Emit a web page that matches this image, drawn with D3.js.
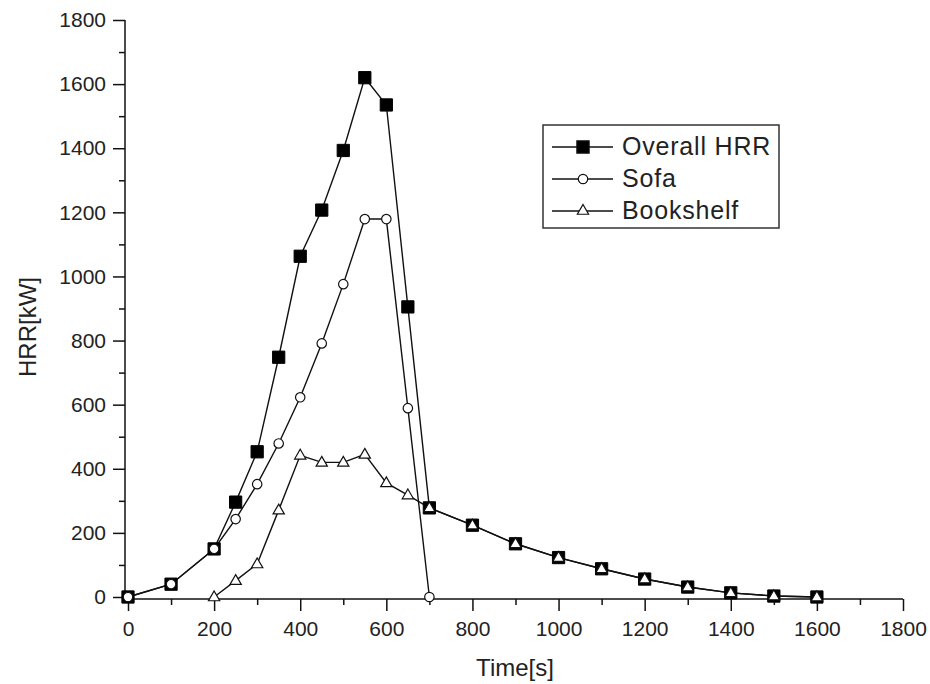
<!DOCTYPE html>
<html>
<head>
<meta charset="utf-8">
<script src="https://cdn.jsdelivr.net/npm/d3@7"></script>
<style>
  body { margin: 0; background: #fff; }
  svg text { font-family: "Liberation Sans", Arial, sans-serif; fill: #222; }
</style>
</head>
<body>
<svg width="930" height="684"></svg>
<script>
// data
var timeOverall = [0, 100, 200, 250, 300, 350, 400, 450, 500, 550, 600, 650, 700, 800, 900, 1000, 1100, 1200, 1300, 1400, 1500, 1600];
var hrrOverall  = [0, 40, 150, 296, 453, 748, 1063, 1207, 1393, 1620, 1535, 905, 278, 224, 166, 123, 88, 56, 31, 13, 3, 0];
var timeSofa = [0, 100, 200, 250, 300, 350, 400, 450, 500, 550, 600, 650, 700];
var hrrSofa  = [0, 40, 150, 243, 352, 479, 623, 791, 976, 1179, 1179, 589, 0];
var timeShelf = [200, 250, 300, 350, 400, 450, 500, 550, 600, 650, 700, 800, 900, 1000, 1100, 1200, 1300, 1400, 1500, 1600];
var hrrShelf  = [0, 51, 103, 271, 442, 420, 420, 445, 356, 318, 278, 224, 166, 123, 88, 56, 31, 13, 3, 0];
var majorTicks = [0, 200, 400, 600, 800, 1000, 1200, 1400, 1600, 1800];
var minorTicks = [100, 300, 500, 700, 900, 1100, 1300, 1500, 1700];
var seriesNames = ["Overall HRR", "Sofa", "Bookshelf"];

function main() {
    var svg = d3.select("svg");

    var x = d3.scaleLinear().domain([0, 1800]).range([128, 903]),
        y = d3.scaleLinear().domain([0, 1800]).range([597, 20]);

    var axisX = 599, axisY = 125;
    var fmt = d3.format("d");

    // minor ticks
    svg.append("g")
       .attr("transform", "translate(0," + axisX + ")")
       .call(d3.axisBottom(x).tickValues(minorTicks).tickSize(6).tickFormat(""))
       .call(function(g) { g.select(".domain").remove(); });
    svg.append("g")
       .attr("transform", "translate(" + axisY + ",0)")
       .call(d3.axisLeft(y).tickValues(minorTicks).tickSize(6).tickFormat(""))
       .call(function(g) { g.select(".domain").remove(); });

    // major ticks
    var gx = svg.append("g")
       .attr("transform", "translate(0," + axisX + ")")
       .call(d3.axisBottom(x).tickValues(majorTicks).tickFormat(fmt).tickSize(12).tickPadding(10))
       .call(function(g) { g.select(".domain").remove(); });
    gx.selectAll("text").attr("font-size", "21px").attr("fill", "#333");

    var gy = svg.append("g")
       .attr("transform", "translate(" + axisY + ",0)")
       .call(d3.axisLeft(y).tickValues(majorTicks).tickFormat(fmt).tickSize(12).tickPadding(7))
       .call(function(g) { g.select(".domain").remove(); });
    gy.selectAll("text").attr("font-size", "21px").attr("fill", "#333");

    svg.selectAll(".tick line").attr("stroke", "#111").attr("stroke-width", 1.5);

    // axis lines
    svg.append("line")
       .attr("x1", axisY).attr("x2", axisY)
       .attr("y1", y(1800)).attr("y2", axisX)
       .attr("stroke", "#111").attr("stroke-width", 1.5);
    svg.append("line")
       .attr("x1", axisY).attr("x2", x(1800))
       .attr("y1", axisX).attr("y2", axisX)
       .attr("stroke", "#111").attr("stroke-width", 1.5);

    // axis titles
    svg.append("text")
       .attr("x", 515).attr("y", 676)
       .attr("text-anchor", "middle")
       .attr("font-size", "24px")
       .text("Time[s]");
    svg.append("text")
       .attr("transform", "translate(36,327) rotate(-90)")
       .attr("text-anchor", "middle")
       .attr("font-size", "24px")
       .text("HRR[kW]");

    var line = d3.line()
                 .x(function(d) { return x(d[0]); })
                 .y(function(d) { return y(d[1]); });

    var overall = d3.zip(timeOverall, hrrOverall),
        sofa = d3.zip(timeSofa, hrrSofa),
        shelf = d3.zip(timeShelf, hrrShelf);

    [overall, sofa, shelf].forEach(function(s) {
        svg.append("path")
           .datum(s)
           .attr("d", line)
           .attr("fill", "none")
           .attr("stroke", "#111")
           .attr("stroke-width", 1.4);
    });

    var sq = d3.symbol().type(d3.symbolSquare).size(150),
        ci = d3.symbol().type(d3.symbolCircle).size(70),
        tri = d3.symbol().type(d3.symbolTriangle).size(55);

    svg.selectAll(".sq").data(overall).enter().append("path")
       .attr("class", "sq")
       .attr("d", sq)
       .attr("transform", function(d) { return "translate(" + x(d[0]) + "," + y(d[1]) + ")"; })
       .attr("fill", "#000").attr("stroke", "#000").attr("stroke-width", 1);

    svg.selectAll(".ci").data(sofa).enter().append("path")
       .attr("class", "ci")
       .attr("d", ci)
       .attr("transform", function(d) { return "translate(" + x(d[0]) + "," + y(d[1]) + ")"; })
       .attr("fill", "#fff").attr("stroke", "#111").attr("stroke-width", 1.2);

    svg.selectAll(".tri").data(shelf).enter().append("path")
       .attr("class", "tri")
       .attr("d", tri)
       .attr("transform", function(d) { return "translate(" + x(d[0]) + "," + (y(d[1]) + 0.5) + ")"; })
       .attr("fill", "#fff").attr("stroke", "#111").attr("stroke-width", 1.2);

    // legend
    var lg = svg.append("g");
    lg.append("rect")
      .attr("x", 543).attr("y", 125)
      .attr("width", 236).attr("height", 103)
      .attr("fill", "#fff").attr("stroke", "#333").attr("stroke-width", 1.5);

    var symbols = [sq, ci, tri],
        fills = ["#000", "#fff", "#fff"];
    seriesNames.forEach(function(name, i) {
        var ry = 147 + i * 32;
        lg.append("line")
          .attr("x1", 552).attr("x2", 613)
          .attr("y1", ry).attr("y2", ry)
          .attr("stroke", "#111").attr("stroke-width", 1.4);
        lg.append("path")
          .attr("d", symbols[i])
          .attr("transform", "translate(583," + ry + ")")
          .attr("fill", fills[i]).attr("stroke", "#111").attr("stroke-width", 1.2);
        lg.append("text")
          .attr("x", 622).attr("y", ry + 8)
          .attr("font-size", "25px")
          .attr("letter-spacing", "0.8px")
          .text(name);
    });
}
main();
</script>
</body>
</html>
